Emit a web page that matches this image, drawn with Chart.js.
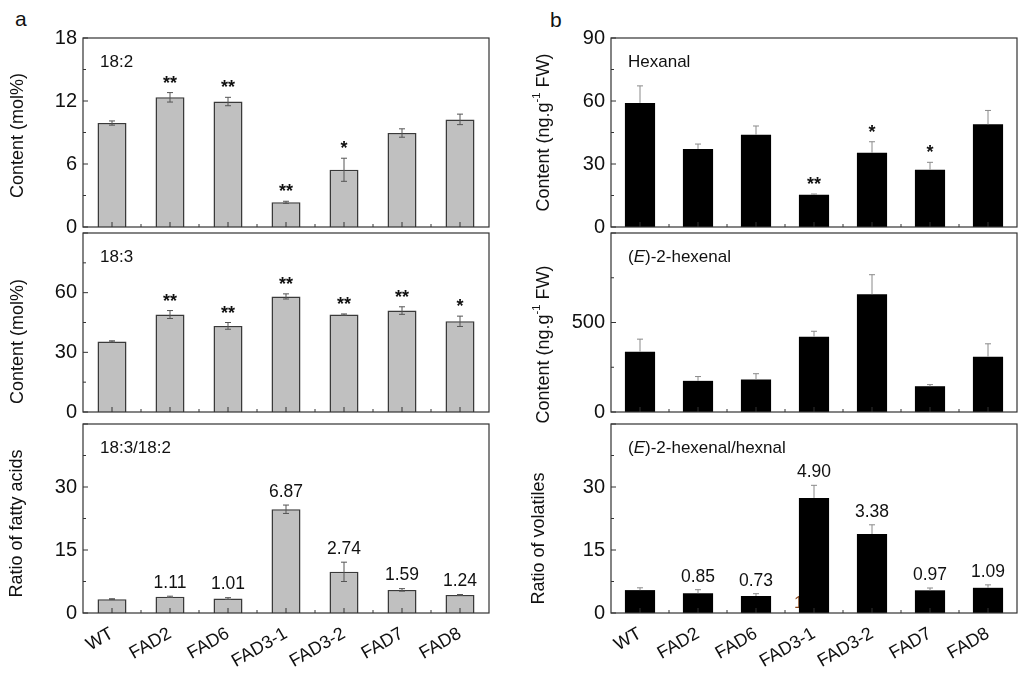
<!DOCTYPE html>
<html>
<head>
<meta charset="utf-8">
<script src="https://cdn.jsdelivr.net/npm/chart.js@4.4.1/dist/chart.umd.min.js"></script>
<style>
  body { margin: 0; background: #fff; width: 1024px; height: 675px; overflow: hidden; position: relative;
         font-family: "Liberation Sans", Arial, sans-serif; }
  canvas { position: absolute; }
  .tag { position: absolute; font-size: 21px; line-height: 1; color: #111; }
</style>
</head>
<body>
<div class="tag" style="left:15px;top:8px">a</div>
<div class="tag" style="left:550px;top:9px">b</div>
<canvas id="fa182" width="500" height="245" style="left:0;top:0"></canvas>
<canvas id="fa183" width="500" height="215" style="left:0;top:215px"></canvas>
<canvas id="faRatio" width="500" height="269" style="left:0;top:406px"></canvas>
<canvas id="hexanal" width="504" height="245" style="left:520px;top:0"></canvas>
<canvas id="hexenal" width="504" height="215" style="left:520px;top:215px"></canvas>
<canvas id="volRatio" width="504" height="269" style="left:520px;top:406px"></canvas>
<script>
const FONT = '"Liberation Sans", Arial, sans-serif';
Chart.defaults.font.family = FONT;
Chart.defaults.color = "#111";

const categories = ["WT", "FAD2", "FAD6", "FAD3-1", "FAD3-2", "FAD7", "FAD8"];

// a: fatty acids (mol%) and ratio
const linoleic = [9.9, 12.35, 11.95, 2.35, 5.45, 8.95, 10.25];
const linoleicErr = [0.2, 0.45, 0.4, 0.1, 1.1, 0.4, 0.5];
const linoleicStars = ["", "**", "**", "**", "*", "", ""];

const linolenic = [35.5, 49.0, 43.3, 58.1, 49.0, 51.0, 45.6];
const linolenicErr = [0.3, 2.0, 1.7, 1.3, 0.3, 1.9, 2.6];
const linolenicStars = ["", "**", "**", "**", "**", "**", "*"];

const faRatio = [3.3, 3.85, 3.45, 24.7, 9.8, 5.5, 4.3];
const faRatioErr = [0.1, 0.15, 0.2, 1.0, 2.3, 0.3, 0.1];
const faRatioLabels = ["", "1.11", "1.01", "6.87", "2.74", "1.59", "1.24"];

// b: volatiles (ng.g-1 FW) and ratio
const hexanal = [59.1, 37.2, 43.9, 15.3, 35.3, 27.3, 48.9];
const hexanalErr = [8.1, 2.3, 4.2, 0.4, 5.3, 3.5, 6.6];
const hexanalStars = ["", "", "", "**", "*", "*", ""];

const hexenal = [337, 174, 181, 421, 658, 144, 309];
const hexenalErr = [70, 24, 33, 30, 109, 9, 72];

const volRatio = [5.45, 4.7, 4.05, 27.4, 18.8, 5.4, 6.0];
const volRatioErr = [0.55, 0.85, 0.55, 3.0, 2.2, 0.55, 0.7];
const volRatioLabels = ["", "0.85", "0.73", "4.90", "3.38", "0.97", "1.09"];

// draws text made of parts (italic / superscript)
function drawRich(ctx, parts, x, y, size, align) {
  const fontOf = p => `${p.italic ? "italic " : ""}${p.sup ? size * 0.62 : size}px ${FONT}`;
  let w = 0;
  parts.forEach(p => { ctx.font = fontOf(p); w += ctx.measureText(p.t).width; });
  let cx = align === "center" ? x - w / 2 : x;
  ctx.textAlign = "left";
  parts.forEach(p => {
    ctx.font = fontOf(p);
    ctx.fillText(p.t, cx, p.sup ? y - size * 0.38 : y);
    cx += ctx.measureText(p.t).width;
  });
}

function panelPlugin(o) {
  return {
    id: "panel",
    beforeDatasetsDraw(chart) {
      if (!o.hidden) return;
      const { ctx } = chart;
      const bar = chart.getDatasetMeta(0).data[o.hidden.index];
      ctx.save();
      ctx.fillStyle = o.hidden.color;
      ctx.font = `17px ${FONT}`;
      ctx.textBaseline = "middle";
      ctx.fillText(o.hidden.text, bar.x - 20, chart.scales.y.getPixelForValue(o.hidden.at));
      ctx.restore();
    },
    afterDatasetsDraw(chart) {
      const { ctx } = chart;
      const y = chart.scales.y;
      ctx.save();
      chart.getDatasetMeta(0).data.forEach((bar, i) => {
        const v = o.values[i], e = o.errs[i];
        const top = y.getPixelForValue(v + e);
        const bot = y.getPixelForValue(o.up ? v : v - e);
        ctx.strokeStyle = o.errColor;
        ctx.lineWidth = 1;
        ctx.beginPath();
        ctx.moveTo(bar.x, top); ctx.lineTo(bar.x, bot);
        ctx.moveTo(bar.x - 3, top); ctx.lineTo(bar.x + 3, top);
        if (!o.up) { ctx.moveTo(bar.x - 3, bot); ctx.lineTo(bar.x + 3, bot); }
        ctx.stroke();
        const m = o.marks[i];
        if (!m) return;
        ctx.fillStyle = "#111";
        ctx.textAlign = "center";
        if (o.markKind === "star") {
          ctx.font = `bold 18px ${FONT}`;
          ctx.textBaseline = "alphabetic";
          ctx.fillText(m, bar.x, top - 4);
        } else {
          ctx.font = `17.5px ${FONT}`;
          ctx.textBaseline = "middle";
          ctx.fillText(m, bar.x, top - 13);
        }
      });
      ctx.restore();
    },
    afterDraw(chart) {
      const { ctx, chartArea: a } = chart;
      const x = chart.scales.x, y = chart.scales.y;
      ctx.save();
      ctx.strokeStyle = "#333";
      ctx.lineWidth = 1.2;
      ctx.strokeRect(a.left, a.top, a.right - a.left, a.bottom - a.top);
      ctx.lineWidth = 1;
      ctx.beginPath();
      // inward y ticks
      for (let v = 0; v <= o.max; v += o.step / 2) {
        const py = y.getPixelForValue(v);
        const len = (v % o.step === 0) ? 5 : 3;
        ctx.moveTo(a.left, py); ctx.lineTo(a.left + len, py);
      }
      // inward x ticks
      categories.forEach((c, i) => {
        const px = x.getPixelForValue(i);
        ctx.moveTo(px, a.bottom); ctx.lineTo(px, a.bottom - 5);
        if (i < categories.length - 1) {
          const mx = (px + x.getPixelForValue(i + 1)) / 2;
          ctx.moveTo(mx, a.bottom); ctx.lineTo(mx, a.bottom - 3);
        }
      });
      ctx.stroke();
      // panel label
      ctx.fillStyle = "#111";
      ctx.textBaseline = "middle";
      drawRich(ctx, o.label, a.left + 17, a.top + 24, 17, "left");
      // y axis title
      ctx.translate(o.titleX, (a.top + a.bottom) / 2 + o.titleShift);
      ctx.rotate(-Math.PI / 2);
      drawRich(ctx, o.title, 0, 0, 18, "center");
      ctx.restore();
    }
  };
}

function makePanel(id, o) {
  new Chart(document.getElementById(id), {
    type: "bar",
    data: {
      labels: categories,
      datasets: [{
        data: o.values,
        backgroundColor: o.fill,
        borderColor: o.edge,
        borderWidth: o.edgeWidth,
        barPercentage: o.barPct,
        categoryPercentage: 1,
      }],
    },
    options: {
      responsive: false,
      animation: false,
      events: [],
      layout: { padding: o.pad },
      plugins: { legend: { display: false }, tooltip: { enabled: false } },
      scales: {
        x: {
          display: o.showX,
          grid: { display: false, drawTicks: false },
          border: { display: false },
          ticks: { color: "#111", font: { size: 18 }, minRotation: 30, maxRotation: 30, padding: 10 },
          afterFit: s => { s.height = o.showX ? 62 : 0; },
        },
        y: {
          min: 0,
          max: o.max,
          grid: { display: false, drawTicks: false },
          border: { display: false },
          ticks: {
            stepSize: o.step,
            color: "#111",
            font: { size: 20 },
            padding: 6,
            callback: v => (o.hideMax && v === o.max) ? "" : v,
          },
          afterFit: s => { s.width = o.yWidth; },
        },
      },
    },
    plugins: [panelPlugin(o)],
  });
}

const leftStyle = { fill: "#c0c0c0", edge: "#3a3a3a", edgeWidth: 1.5, barPct: 0.5, errColor: "#555", up: false, yWidth: 83 };
const rightStyle = { fill: "#000", edge: "#000", edgeWidth: 0, barPct: 0.52, errColor: "#8a8a8a", up: true, yWidth: 91 };
const contentMol = [{ t: "Content (mol%)" }];
const contentNg = [{ t: "Content (ng.g" }, { t: "-1", sup: true }, { t: " FW)" }];

makePanel("fa182", Object.assign({}, leftStyle, {
  values: linoleic, errs: linoleicErr, marks: linoleicStars, markKind: "star",
  max: 18, step: 6, hideMax: false, showX: false,
  pad: { top: 38, bottom: 15, left: 0, right: 11 },
  label: [{ t: "18:2" }], title: contentMol, titleX: 18, titleShift: 3,
}));
makePanel("fa183", Object.assign({}, leftStyle, {
  values: linolenic, errs: linolenicErr, marks: linolenicStars, markKind: "star",
  max: 90, step: 30, hideMax: true, showX: false,
  pad: { top: 15, bottom: 9, left: 0, right: 11 },
  label: [{ t: "18:3" }], title: contentMol, titleX: 18, titleShift: 19,
}));
makePanel("faRatio", Object.assign({}, leftStyle, {
  values: faRatio, errs: faRatioErr, marks: faRatioLabels, markKind: "num",
  max: 45, step: 15, hideMax: true, showX: true,
  pad: { top: 15, bottom: 0, left: 0, right: 11 },
  label: [{ t: "18:3/18:2" }], title: [{ t: "Ratio of fatty acids" }], titleX: 17, titleShift: 5,
}));
makePanel("hexanal", Object.assign({}, rightStyle, {
  values: hexanal, errs: hexanalErr, marks: hexanalStars, markKind: "star",
  max: 90, step: 30, hideMax: false, showX: false,
  pad: { top: 38, bottom: 15, left: 0, right: 7 },
  label: [{ t: "Hexanal" }], title: contentNg, titleX: 24, titleShift: 0,
}));
makePanel("hexenal", Object.assign({}, rightStyle, {
  values: hexenal, errs: hexenalErr, marks: [], markKind: "star",
  max: 1000, step: 500, hideMax: true, showX: false,
  pad: { top: 15, bottom: 9, left: 0, right: 7 },
  label: [{ t: "(" }, { t: "E", italic: true }, { t: ")-2-hexenal" }], title: contentNg, titleX: 24, titleShift: 22,
}));
makePanel("volRatio", Object.assign({}, rightStyle, {
  values: volRatio, errs: volRatioErr, marks: volRatioLabels, markKind: "num",
  max: 45, step: 15, hideMax: true, showX: true,
  pad: { top: 15, bottom: 0, left: 0, right: 7 },
  label: [{ t: "(" }, { t: "E", italic: true }, { t: ")-2-hexenal/hexnal" }],
  title: [{ t: "Ratio of volatiles" }], titleX: 19, titleShift: 20,
  hidden: { index: 3, text: "1", color: "#8b4a1e", at: 2.3 },
}));
</script>
</body>
</html>
